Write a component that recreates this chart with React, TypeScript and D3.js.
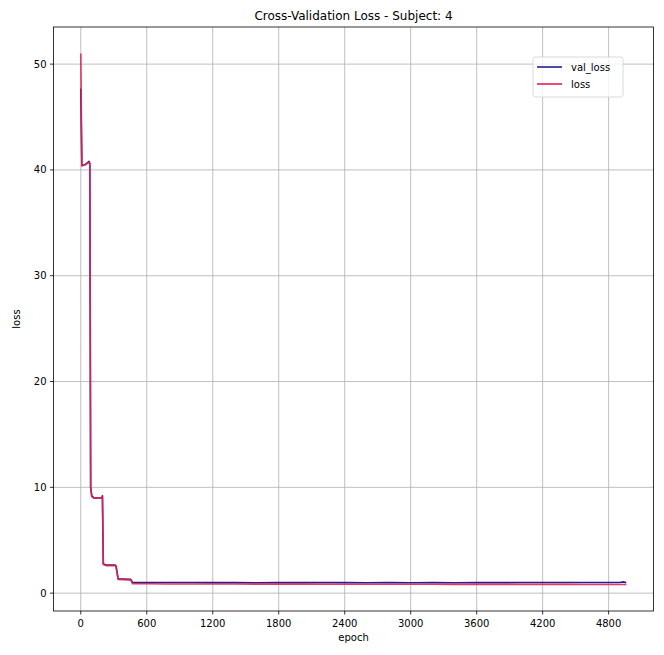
import React from "react";
import * as d3 from "d3";

const W = 664;
const H = 655;
const M = { left: 53.5, right: 653.5, top: 27, bottom: 611 };

const TITLE = "Cross-Validation Loss - Subject: 4";
const X_LABEL = "epoch";
const Y_LABEL = "loss";
const X_TICKS = [0, 600, 1200, 1800, 2400, 3000, 3600, 4200, 4800];
const Y_TICKS = [0, 10, 20, 30, 40, 50];
const SERIES_NAMES = ["val_loss", "loss"];
const SERIES_COLORS = ["#1f1f9a", "#e8204f"];

const EPOCHS = [
  0, 10, 40, 75, 82, 90, 100, 120, 190, 197, 205, 230, 310, 320, 340, 440, 455, 470,
  600, 800, 1000, 1200, 1400, 1600, 1800, 2000, 2200, 2400, 2600, 2800, 3000,
  3200, 3400, 3600, 3800, 4000, 4200, 4400, 4600, 4800, 4900, 4940, 4960,
];

const VAL_LOSS = [
  47.7, 40.4, 40.5, 40.8, 40.6, 10.0, 9.2, 9.0, 9.0, 9.2, 2.75, 2.65, 2.65, 2.6, 1.35, 1.3, 1.3, 1.02,
  1.0, 1.0, 1.0, 0.99, 0.99, 0.98, 0.99, 0.99, 1.0, 0.99, 0.98, 0.99, 0.98,
  0.99, 0.98, 0.99, 0.99, 1.0, 1.0, 1.0, 1.01, 1.0, 1.01, 1.06, 0.98,
];

const LOSS = [
  51.0, 40.4, 40.5, 40.7, 40.6, 10.0, 9.1, 9.0, 9.0, 9.1, 2.7, 2.6, 2.6, 2.55, 1.3, 1.25, 1.25, 0.9,
  0.88, 0.87, 0.87, 0.86, 0.86, 0.85, 0.85, 0.85, 0.85, 0.84, 0.84, 0.84, 0.84,
  0.84, 0.83, 0.83, 0.83, 0.83, 0.83, 0.83, 0.82, 0.82, 0.82, 0.82, 0.82,
];

export default function App() {
  const allVals = [...VAL_LOSS, ...LOSS];
  const xMin = d3.min(EPOCHS)!;
  const xMax = d3.max(EPOCHS)!;
  const xPad = (xMax - xMin) * 0.05;
  const yMin = d3.min(allVals)!;
  const yMax = d3.max(allVals)!;
  const yPad = (yMax - yMin) * 0.05;

  const x = d3.scaleLinear().domain([xMin - xPad, xMax + xPad]).range([M.left, M.right]);
  const y = d3.scaleLinear().domain([yMin - yPad, yMax + yPad]).range([M.bottom, M.top]);

  const line = d3
    .line<[number, number]>()
    .x((d) => x(d[0]))
    .y((d) => y(d[1]));

  const series = [VAL_LOSS, LOSS].map((vals) => EPOCHS.map((e, i) => [e, vals[i]] as [number, number]));

  const font = "DejaVu Sans, sans-serif";
  const legX = 533;
  const legY = 57;

  return (
    <svg width={W} height={H} style={{ position: "absolute", left: 0, top: 0, background: "#fff" }}>
      <rect x={0} y={0} width={W} height={H} fill="#fff" />
      {/* grid */}
      {X_TICKS.map((t) => (
        <line key={"gx" + t} x1={x(t)} x2={x(t)} y1={M.top} y2={M.bottom} stroke="#b0b0b0" strokeWidth={0.8} />
      ))}
      {Y_TICKS.map((t) => (
        <line key={"gy" + t} x1={M.left} x2={M.right} y1={y(t)} y2={y(t)} stroke="#b0b0b0" strokeWidth={0.8} />
      ))}
      {/* lines */}
      {series.map((s, i) => (
        <path
          key={i}
          d={line(s)!}
          fill="none"
          stroke={SERIES_COLORS[i]}
          strokeWidth={1.6}
          strokeLinejoin="round"
          opacity={i === 1 ? 0.9 : 1}
        />
      ))}
      {/* frame */}
      <rect x={M.left} y={M.top} width={M.right - M.left} height={M.bottom - M.top} fill="none" stroke="#000" strokeWidth={0.8} />
      {/* ticks */}
      {X_TICKS.map((t) => (
        <g key={"tx" + t}>
          <line x1={x(t)} x2={x(t)} y1={M.bottom} y2={M.bottom + 3.5} stroke="#000" strokeWidth={0.8} />
          <text x={x(t)} y={M.bottom + 16} textAnchor="middle" fontFamily={font} fontSize={10} fill="#000">
            {t}
          </text>
        </g>
      ))}
      {Y_TICKS.map((t) => (
        <g key={"ty" + t}>
          <line x1={M.left - 3.5} x2={M.left} y1={y(t)} y2={y(t)} stroke="#000" strokeWidth={0.8} />
          <text x={M.left - 7} y={y(t) + 3.5} textAnchor="end" fontFamily={font} fontSize={10} fill="#000">
            {t}
          </text>
        </g>
      ))}
      {/* labels */}
      <text x={(M.left + M.right) / 2} y={641} textAnchor="middle" fontFamily={font} fontSize={10}>
        {X_LABEL}
      </text>
      <text
        transform={`translate(20,${(M.top + M.bottom) / 2}) rotate(-90)`}
        textAnchor="middle"
        fontFamily={font}
        fontSize={10}
      >
        {Y_LABEL}
      </text>
      <text x={(M.left + M.right) / 2} y={20} textAnchor="middle" fontFamily={font} fontSize={12}>
        {TITLE}
      </text>
      {/* legend */}
      <rect x={legX} y={legY} width={90} height={40} rx={2.5} fill="#fff" fillOpacity={0.8} stroke="#d0d0d0" strokeWidth={0.8} />
      {SERIES_NAMES.map((n, i) => (
        <g key={n}>
          <line
            x1={legX + 4}
            x2={legX + 29}
            y1={legY + 10 + i * 17}
            y2={legY + 10 + i * 17}
            stroke={SERIES_COLORS[i]}
            strokeWidth={1.6}
          />
          <text x={legX + 38} y={legY + 14 + i * 17} fontFamily={font} fontSize={10}>
            {n}
          </text>
        </g>
      ))}
    </svg>
  );
}
